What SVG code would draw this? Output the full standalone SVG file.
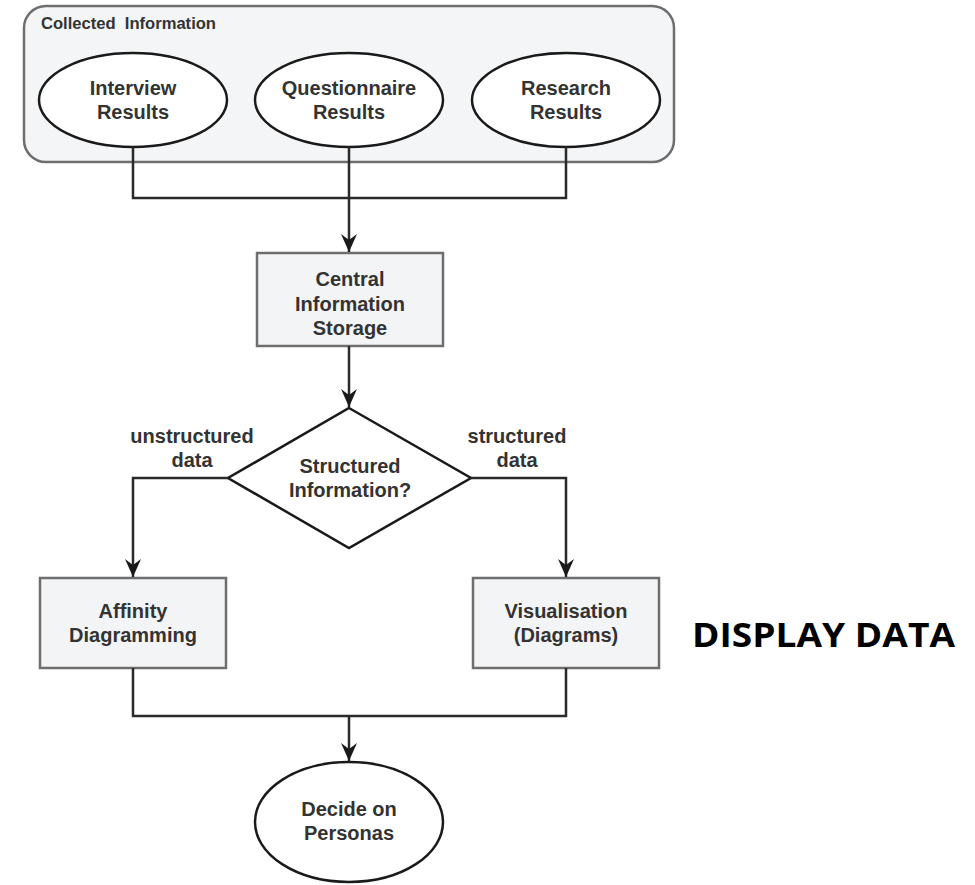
<svg xmlns="http://www.w3.org/2000/svg" width="975" height="885" viewBox="0 0 975 885">
  <style>
    .lbl { font-family: "Liberation Sans", Arial, sans-serif; font-weight: bold; font-size: 20px; fill: #333; text-anchor: middle; }
    .box { fill: #f3f4f6; stroke: #6e6e6e; stroke-width: 2.5; }
    .oval { fill: #ffffff; stroke: #1a1a1a; stroke-width: 2.5; }
    .wire { fill: none; stroke: #2a2a2a; stroke-width: 2.5; }
  </style>
  <defs>
    <marker id="arrowDown" viewBox="0 0 16 18" refX="8" refY="18" markerWidth="16" markerHeight="18" markerUnits="userSpaceOnUse" orient="0">
      <path d="M0,0 L8,6 L16,0 L8,18 Z" fill="#1a1a1a"/>
    </marker>
  </defs>
  <rect width="975" height="885" fill="#ffffff"/>

  <!-- container for gathered inputs -->
  <g id="collected">
    <rect x="24" y="6" width="650" height="156" rx="22" ry="22" fill="#f4f5f6" stroke="#6e6e6e" stroke-width="2.5"/>
    <text x="41" y="29" font-family="Liberation Sans, Arial, sans-serif" font-weight="bold" font-size="17" fill="#333" style="white-space:pre" textLength="175" lengthAdjust="spacingAndGlyphs">Collected  Information</text>
  </g>

  <g id="interview">
    <ellipse class="oval" cx="133" cy="100" rx="94" ry="47"/>
    <text class="lbl" x="133" y="95">Interview</text>
    <text class="lbl" x="133" y="119">Results</text>
  </g>
  <g id="questionnaire">
    <ellipse class="oval" cx="349" cy="100" rx="94" ry="47"/>
    <text class="lbl" x="349" y="95">Questionnaire</text>
    <text class="lbl" x="349" y="119">Results</text>
  </g>
  <g id="research">
    <ellipse class="oval" cx="566" cy="100" rx="94" ry="47"/>
    <text class="lbl" x="566" y="95">Research</text>
    <text class="lbl" x="566" y="119">Results</text>
  </g>

  <g id="storage">
    <rect class="box" x="257" y="253" width="186" height="93"/>
    <text class="lbl" x="350" y="286">Central</text>
    <text class="lbl" x="350" y="311">Information</text>
    <text class="lbl" x="350" y="335">Storage</text>
  </g>

  <g id="decision">
    <polygon points="349,408 471,478 349,548 228,478" fill="#ffffff" stroke="#1a1a1a" stroke-width="2.5"/>
    <text class="lbl" x="350" y="473">Structured</text>
    <text class="lbl" x="350" y="497">Information?</text>
  </g>

  <g id="affinity">
    <rect class="box" x="40" y="578" width="186" height="90"/>
    <text class="lbl" x="133" y="618">Affinity</text>
    <text class="lbl" x="133" y="642">Diagramming</text>
  </g>

  <g id="visualisation">
    <rect class="box" x="473" y="578" width="186" height="90"/>
    <text class="lbl" x="566" y="618">Visualisation</text>
    <text class="lbl" x="566" y="642">(Diagrams)</text>
  </g>

  <g id="personas">
    <ellipse class="oval" cx="349" cy="822" rx="94" ry="60"/>
    <text class="lbl" x="349" y="816">Decide on</text>
    <text class="lbl" x="349" y="840">Personas</text>
  </g>

  <g id="heading">
    <text x="692" y="647" font-family="Open Sans, Liberation Sans, sans-serif" font-weight="bold" font-size="34" fill="#000" textLength="263" lengthAdjust="spacingAndGlyphs">DISPLAY DATA</text>
  </g>

  <g id="connectors">
    <path class="wire" d="M133,147 V198 H566 V147 M349,147 V198"/>
    <path class="wire" d="M349,198 V252" marker-end="url(#arrowDown)"/>
    <path class="wire" d="M349,346 V407" marker-end="url(#arrowDown)"/>
    <path class="wire" d="M228,478 H133 V577" marker-end="url(#arrowDown)"/>
    <path class="wire" d="M471,478 H566 V577" marker-end="url(#arrowDown)"/>
    <path class="wire" d="M133,668 V716 H566 V668"/>
    <path class="wire" d="M349,716 V761" marker-end="url(#arrowDown)"/>
    <text class="lbl" x="192" y="443">unstructured</text>
    <text class="lbl" x="192" y="467">data</text>
    <text class="lbl" x="517" y="443">structured</text>
    <text class="lbl" x="517" y="467">data</text>
  </g>
</svg>
